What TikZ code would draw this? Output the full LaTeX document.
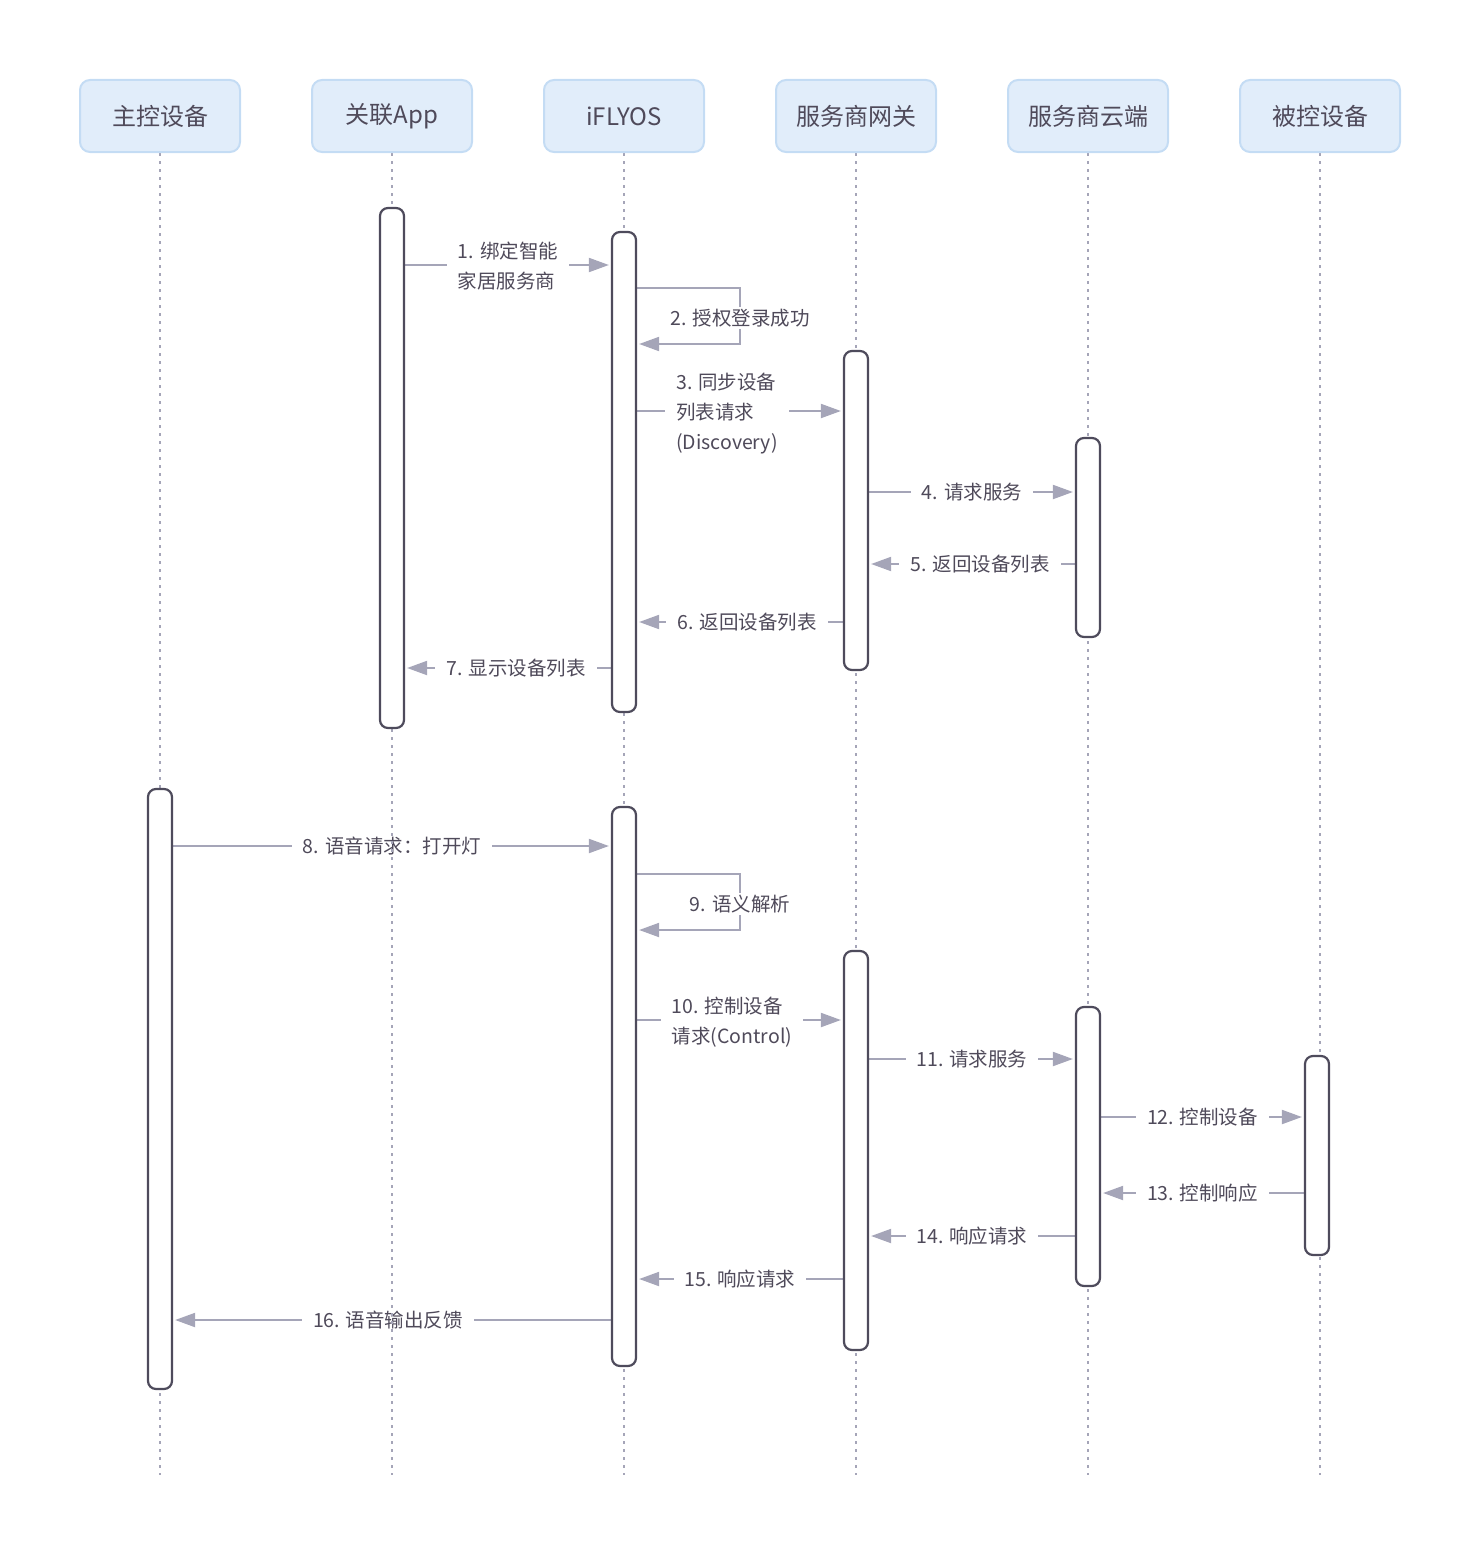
\documentclass[tikz,border=0pt]{standalone}
\usepackage{fontspec}
\setmainfont{Noto Sans CJK SC}
\usepackage{xcolor}
\usetikzlibrary{arrows.meta,positioning}
\definecolor{sqtext} {HTML}{4F4A5A}
\definecolor{sqline} {HTML}{A5A5B8}
\definecolor{sqbox}  {HTML}{4E4B5C}
\definecolor{sqhead} {HTML}{E1EDFA}
\definecolor{sqedge} {HTML}{C4DCF4}
\pgfdeclarelayer{back}
\pgfdeclarelayer{life}
\pgfsetlayers{back,life,main}

\begin{document}
\begin{tikzpicture}[
  x=1pt, y=-1pt,
  every node/.style={text=sqtext},
  actor/.style={
    rectangle, rounded corners=10pt, minimum width=160pt, minimum height=72pt,
    fill=sqhead, draw=sqedge, line width=2pt,
    font=\fontsize{24}{28}\selectfont
  },
  act/.style={
    rectangle, rounded corners=8pt, minimum width=24pt, inner sep=0pt,
    fill=white, draw=sqbox, line width=2.2pt
  },
  lifeline/.style={draw=sqline, line width=1.6pt, dash pattern=on 3pt off 5pt},
  msg/.style={draw=sqline, line width=2pt, shorten >=2pt,
    -{Triangle[length=20pt,width=14pt]}},
  mlabel/.style={fill=white, inner xsep=11pt, inner ysep=2pt, align=left,
    font=\fontsize{19.5}{30}\selectfont}
]
\useasboundingbox (0,0) rectangle (1480,1560);

% Participants
\node[actor] (master)  at (160,116)  {主控设备};
\node[actor] (app)     at (392,116)  {关联App};
\node[actor] (iflyos)  at (624,116)  {iFLYOS};
\node[actor] (gateway) at (856,116)  {服务商网关};
\node[actor] (cloud)   at (1088,116) {服务商云端};
\node[actor] (device)  at (1320,116) {被控设备};

% Lifelines
\begin{pgfonlayer}{life}
\foreach \p in {master,app,iflyos,gateway,cloud,device}
  \draw[lifeline] (\p.south) -- (\p.south |- 0,1475);
\end{pgfonlayer}

% Activations
\node[act, minimum height=520pt] (appAct)    at (392,468)    {};
\node[act, minimum height=480pt] (iflyA)     at (624,472)    {};
\node[act, minimum height=319pt] (gwA)       at (856,510.5)  {};
\node[act, minimum height=199pt] (cloudA)    at (1088,537.5) {};
\node[act, minimum height=600pt] (masterAct) at (160,1089)   {};
\node[act, minimum height=559pt] (iflyB)     at (624,1086.5) {};
\node[act, minimum height=399pt] (gwB)       at (856,1150.5) {};
\node[act, minimum height=279pt] (cloudB)    at (1088,1146.5){};
\node[act, minimum height=199pt] (devAct)    at (1317,1155.5){};

% Messages
\begin{pgfonlayer}{back}
\draw[msg] (appAct.east |- 0,265) -- node[mlabel, yshift=-1pt] {1. 绑定智能\\家居服务商} (iflyA.west |- 0,265);
\draw[msg] (iflyA.east |- 0,288) -- (740,288)
  -- node[mlabel, yshift=-2pt] {2. 授权登录成功} (740,344) -- (iflyA.east |- 0,344);
\draw[msg] (iflyA.east |- 0,411) -- node[mlabel, xshift=-13pt, yshift=-3pt] {3. 同步设备\\列表请求\\(Discovery)} (gwA.west |- 0,411);
\draw[msg] (gwA.east |- 0,492) -- node[mlabel] {4. 请求服务} (cloudA.west |- 0,492);
\draw[msg] (cloudA.west |- 0,564) -- node[mlabel, xshift=8pt] {5. 返回设备列表} (gwA.east |- 0,564);
\draw[msg] (gwA.west |- 0,622) -- node[mlabel, xshift=7pt] {6. 返回设备列表} (iflyA.east |- 0,622);
\draw[msg] (iflyA.west |- 0,668) -- node[mlabel, xshift=8pt] {7. 显示设备列表} (appAct.east |- 0,668);

\draw[msg] (masterAct.east |- 0,846) -- node[mlabel] {8. 语音请求：打开灯} (iflyB.west |- 0,846);
\draw[msg] (iflyB.east |- 0,874) -- (740,874)
  -- node[mlabel, yshift=-2pt] {9. 语义解析} (740,930) -- (iflyB.east |- 0,930);
\draw[msg] (iflyB.east |- 0,1020) -- node[mlabel, xshift=-8pt, yshift=-2pt] {10. 控制设备\\请求(Control)} (gwB.west |- 0,1020);
\draw[msg] (gwB.east |- 0,1059) -- node[mlabel] {11. 请求服务} (cloudB.west |- 0,1059);
\draw[msg] (cloudB.east |- 0,1117) -- node[mlabel] {12. 控制设备} (devAct.west |- 0,1117);
\draw[msg] (devAct.west |- 0,1193) -- node[mlabel] {13. 控制响应} (cloudB.east |- 0,1193);
\draw[msg] (cloudB.west |- 0,1236) -- node[mlabel] {14. 响应请求} (gwB.east |- 0,1236);
\draw[msg] (gwB.west |- 0,1279) -- node[mlabel] {15. 响应请求} (iflyB.east |- 0,1279);
\draw[msg] (iflyB.west |- 0,1320) -- node[mlabel, xshift=-4pt] {16. 语音输出反馈} (masterAct.east |- 0,1320);
\end{pgfonlayer}

\end{tikzpicture}
\end{document}
